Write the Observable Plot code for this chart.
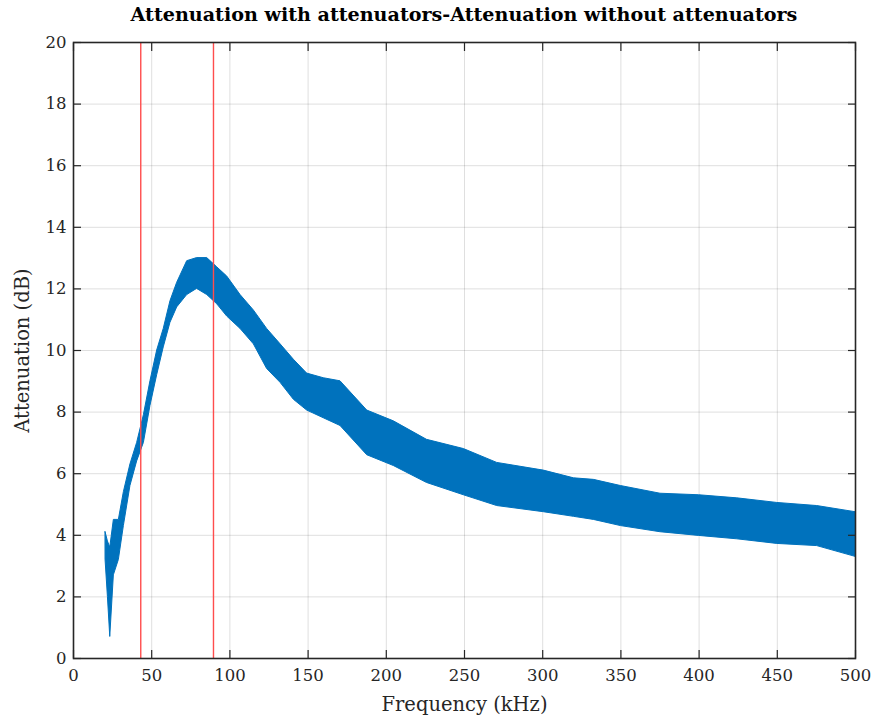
<!DOCTYPE html>
<html>
<head>
<meta charset="utf-8">
<script src="https://cdn.jsdelivr.net/npm/d3@7"></script>
<script src="https://cdn.jsdelivr.net/npm/@observablehq/plot@0.6"></script>
<style>
  html, body { margin: 0; padding: 0; background: #fff; }
  #wrap { width: 874px; height: 727px; position: relative; overflow: hidden; }
  #title { position: absolute; left: 73px; width: 782px; top: 3px; text-align: center; white-space: nowrap;
    font-family: "DejaVu Serif", serif; font-weight: bold; font-size: 17px; color: #000; }
  #chart { position: absolute; left: 0; top: 30px; }
</style>
</head>
<body>
<div id="wrap">
  <div id="title"></div>
  <div id="chart"></div>
</div>
<script>
const titleText = "Attenuation with attenuators-Attenuation without attenuators";
const xLabel = "Frequency (kHz)";
const yLabel = "Attenuation (dB)";
const xTicks = [0, 50, 100, 150, 200, 250, 300, 350, 400, 450, 500];
const yTicks = [0, 2, 4, 6, 8, 10, 12, 14, 16, 18, 20];
const markerFreqs = [43, 89.5];

const freq  = [20.5, 22, 23.5, 25.8, 29, 32.2, 36.4, 40.7, 45, 49.2, 53.5, 57.7, 62, 66.3, 72.7, 79, 85.5, 91.9, 98.3, 106.8, 115.3, 123.8, 132.4, 140.9, 149.4, 160, 170.7, 187.8, 204.8, 226, 249.6, 270.9, 300.7, 320, 332.7, 350, 375.3, 400, 424.4, 450, 475.5, 500];
const lower = [3.2, 2.0, 0.7, 2.7, 3.2, 4.3, 5.6, 6.4, 7.0, 8.2, 9.2, 10.1, 10.9, 11.4, 11.8, 12.0, 11.8, 11.5, 11.1, 10.7, 10.2, 9.4, 8.95, 8.4, 8.05, 7.8, 7.55, 6.6, 6.25, 5.7, 5.3, 4.95, 4.75, 4.6, 4.5, 4.3, 4.1, 3.98, 3.87, 3.72, 3.65, 3.3];
const upper = [4.1, 3.8, 3.6, 4.5, 4.5, 5.4, 6.3, 7.0, 7.9, 9.0, 10.0, 10.7, 11.6, 12.2, 12.9, 13.0, 13.0, 12.7, 12.4, 11.8, 11.3, 10.7, 10.2, 9.7, 9.25, 9.1, 9.0, 8.05, 7.7, 7.1, 6.8, 6.35, 6.1, 5.85, 5.8, 5.6, 5.35, 5.3, 5.2, 5.05, 4.95, 4.75];

const band = freq.map((f, i) => ({f, lo: lower[i], hi: upper[i]}));
const ink = "#262626";
const font = "DejaVu Serif, serif";

// title, sized to the reference width
const t = document.getElementById("title");
t.textContent = titleText;
{
  const span = document.createElement("span");
  span.style.cssText = "position:absolute;visibility:hidden;white-space:nowrap;font-family:'DejaVu Serif',serif;font-weight:bold;font-size:17px";
  span.textContent = titleText;
  document.body.appendChild(span);
  const w = span.getBoundingClientRect().width;
  document.body.removeChild(span);
  if (w > 0) t.style.fontSize = (17 * 667 / w).toFixed(2) + "px";
}

const plot = Plot.plot({
  width: 874,
  height: 697,
  marginLeft: 73,
  marginRight: 19,
  marginTop: 12,
  marginBottom: 69,
  style: {fontFamily: font, color: ink, background: "#fff"},
  x: {domain: [0, 500], ticks: xTicks},
  y: {domain: [0, 20], ticks: yTicks},
  marks: [
    Plot.gridX(xTicks, {stroke: ink, strokeOpacity: 0.15}),
    Plot.gridY(yTicks, {stroke: ink, strokeOpacity: 0.15}),
    Plot.areaY(band, {x: "f", y1: "lo", y2: "hi", fill: "#0072BD", stroke: "#0072BD", strokeWidth: 1}),
    Plot.ruleX(markerFreqs, {stroke: "#ff4d4d", strokeWidth: 1.4}),
    Plot.axisX(xTicks, {anchor: "bottom", tickSize: -8, stroke: ink, strokeWidth: 1.2, text: null, label: null}),
    Plot.axisX(xTicks, {anchor: "top", tickSize: -8, stroke: ink, strokeWidth: 1.2, text: null, label: null}),
    Plot.axisY(yTicks, {anchor: "left", tickSize: -8, stroke: ink, strokeWidth: 1.2, text: null, label: null}),
    Plot.axisY(yTicks, {anchor: "right", tickSize: -8, stroke: ink, strokeWidth: 1.2, text: null, label: null}),
    Plot.axisX(xTicks, {anchor: "bottom", tickSize: 0, tickPadding: 11, fill: ink, label: xLabel, labelAnchor: "center", labelArrow: "none", labelOffset: 52}),
    Plot.axisY(yTicks, {anchor: "left", tickSize: 0, tickPadding: 7, fill: ink, label: yLabel, labelAnchor: "center", labelArrow: "none", labelOffset: 58}),
    Plot.frame({stroke: ink, strokeWidth: 1.6})
  ]
});
d3.select(plot).selectAll("text").each(function() {
  const s = d3.select(this);
  const txt = this.textContent;
  if (txt === xLabel || txt === yLabel) s.attr("font-size", 19.5).style("font-size", "19.5px");
  else s.attr("font-size", 16.5).style("font-size", "16.5px");
});
document.getElementById("chart").appendChild(plot);
</script>
</body>
</html>
